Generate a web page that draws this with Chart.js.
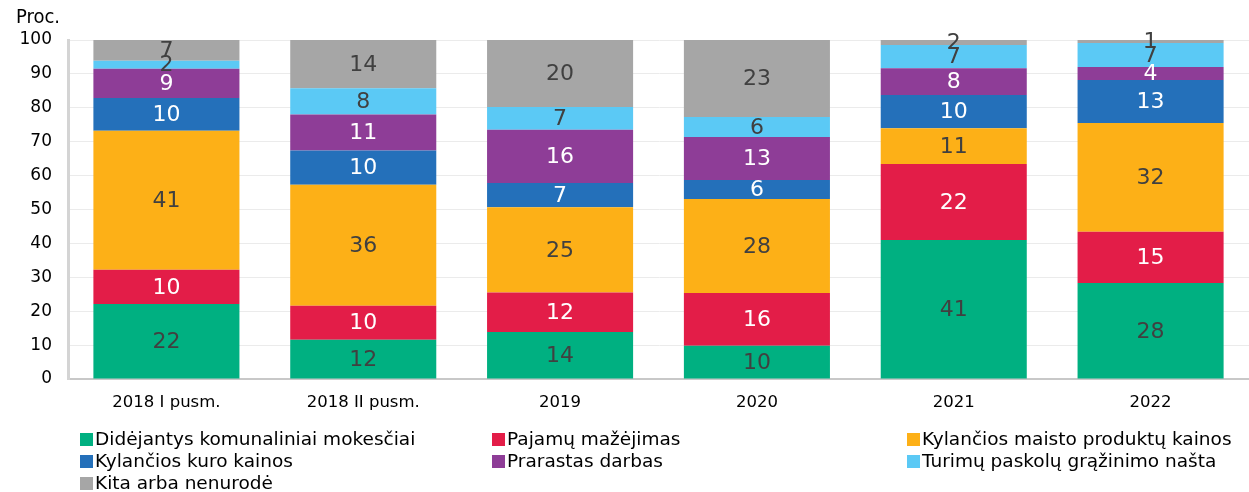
<!DOCTYPE html>
<html>
<head>
<meta charset="utf-8">
<script src="https://cdn.jsdelivr.net/npm/chart.js@4"></script>
<style>
  html, body { margin: 0; padding: 0; background: #fff; }
  #wrap { position: relative; width: 1249px; height: 492px; }
  #legend { position: absolute; left: 0; top: 0; width: 1249px; height: 492px; pointer-events: none;
            font-family: "DejaVu Sans", Verdana, sans-serif; font-size: 18.5px; color: #000; }
  .li { position: absolute; white-space: nowrap; line-height: 22px; height: 22px; }
  .sw { display: inline-block; width: 13px; height: 13px; margin-right: 2px; vertical-align: -1px; }
</style>
</head>
<body>
<div id="wrap">
  <canvas id="c" width="1249" height="492"></canvas>
  <div id="legend"></div>
</div>
<script>
const categories = ["2018 I pusm.", "2018 II pusm.", "2019", "2020", "2021", "2022"];
const seriesNames = [
  "Didėjantys komunaliniai mokesčiai",
  "Pajamų mažėjimas",
  "Kylančios maisto produktų kainos",
  "Kylančios kuro kainos",
  "Prarastas darbas",
  "Turimų paskolų grąžinimo našta",
  "Kita arba nenurodė"
];
const komunaliniai = [22.1, 11.6, 13.9, 9.8, 41.0, 28.3];
const pajamos      = [10.1, 10.0, 11.6, 15.6, 22.4, 15.1];
const maistas      = [41.0, 35.7, 25.2, 27.7, 10.6, 32.1];
const kuras        = [9.7, 10.1, 7.1, 5.6, 9.8, 12.7];
const darbas       = [8.6, 10.6, 15.7, 12.7, 7.9, 3.8];
const paskolos     = [2.4, 7.8, 6.7, 5.9, 6.8, 7.1];
const kita         = [6.5, 14.2, 19.8, 22.7, 1.5, 0.9];
const yTicks = [0, 10, 20, 30, 40, 50, 60, 70, 80, 90, 100];
const yUnit = "Proc.";

const colors = ["#00B081", "#E31D48", "#FDB017", "#2470BA", "#8E3D97", "#5BC9F5", "#A6A6A6"];
const labelColors = ["#404040", "#ffffff", "#404040", "#ffffff", "#ffffff", "#404040", "#404040"];
const seriesData = [komunaliniai, pajamos, maistas, kuras, darbas, paskolos, kita];

const datasets = seriesNames.map((name, i) => ({
  label: name,
  data: seriesData[i],
  backgroundColor: colors[i],
  borderWidth: 0,
  categoryPercentage: 1.0,
  barPercentage: 0.742
}));

const valueLabels = {
  id: 'valueLabels',
  afterDatasetsDraw(chart) {
    const ctx = chart.ctx;
    const area = chart.chartArea;
    ctx.save();
    ctx.font = '22px "DejaVu Sans", Verdana, sans-serif';
    ctx.textAlign = 'center';
    ctx.textBaseline = 'middle';
    chart.data.datasets.forEach((ds, di) => {
      const meta = chart.getDatasetMeta(di);
      meta.data.forEach((el, idx) => {
        const v = ds.data[idx];
        const top = Math.max(el.y, area.top);
        const y = (top + el.base) / 2;
        ctx.fillStyle = labelColors[di];
        ctx.fillText(String(Math.round(v)), el.x, y + 1);
      });
    });
    ctx.restore();
  }
};

const unitLabel = {
  id: 'unitLabel',
  afterDraw(chart) {
    const ctx = chart.ctx;
    ctx.save();
    ctx.font = '20px "DejaVu Sans Condensed", "DejaVu Sans", sans-serif';
    ctx.fillStyle = '#000';
    ctx.textAlign = 'left';
    ctx.textBaseline = 'middle';
    ctx.fillText(yUnit, 16, 18);
    ctx.restore();
  }
};

const chart = new Chart(document.getElementById('c'), {
  type: 'bar',
  data: { labels: categories, datasets },
  options: {
    responsive: false,
    animation: false,
    devicePixelRatio: 1,
    layout: { padding: { top: 40, right: 0, bottom: 73, left: 0 } },
    plugins: { legend: { display: false }, tooltip: { enabled: false }, title: { display: false } },
    scales: {
      x: {
        stacked: true,
        grid: { display: false, drawTicks: false },
        border: { display: true, color: '#c8c8c8', width: 2 },
        ticks: { color: '#000', font: { family: '"DejaVu Sans", Verdana, sans-serif', size: 16.5 }, padding: 14, maxRotation: 0 },
        afterFit(s) { s.height = 40; }
      },
      y: {
        stacked: true,
        min: 0, max: 100,
        afterBuildTicks(s) { s.ticks = yTicks.map(v => ({ value: v })); },
        grid: { color: '#ebebeb', lineWidth: 1, drawTicks: false },
        border: { display: true, color: '#d4d4d4', width: 3 },
        ticks: { color: '#000', font: { family: '"DejaVu Sans", Verdana, sans-serif', size: 17 }, padding: 16 },
        afterFit(s) { s.width = 68; }
      }
    }
  },
  plugins: [valueLabels, unitLabel]
});

// HTML legend in three columns
const legendEl = document.getElementById('legend');
const colX = [80, 492, 907];
const rowY = [428, 450, 472];
seriesNames.forEach((name, i) => {
  const d = document.createElement('div');
  d.className = 'li';
  d.style.left = colX[i % 3] + 'px';
  d.style.top = rowY[Math.floor(i / 3)] + 'px';
  const sw = document.createElement('span');
  sw.className = 'sw';
  sw.style.background = colors[i];
  d.appendChild(sw);
  d.appendChild(document.createTextNode(name));
  legendEl.appendChild(d);
});
</script>
</body>
</html>
